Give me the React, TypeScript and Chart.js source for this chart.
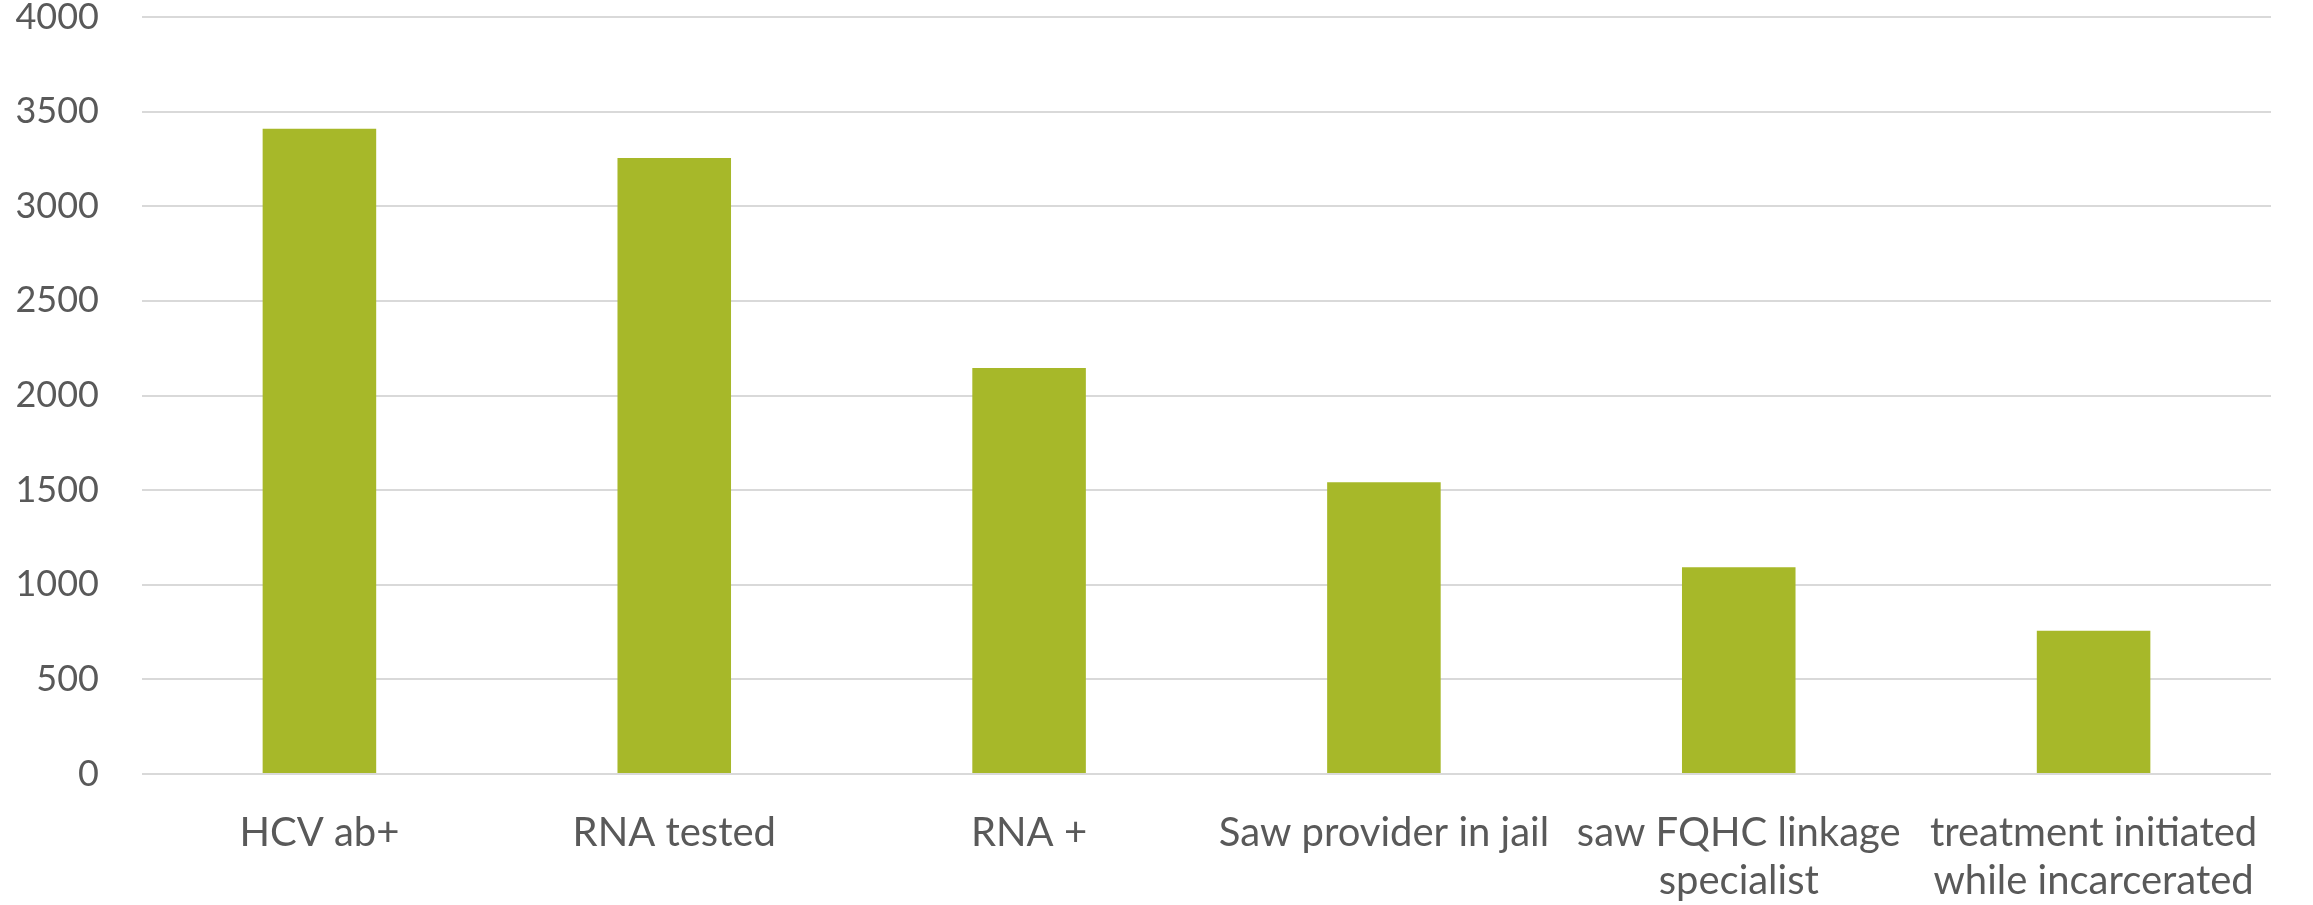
import React, { useEffect, useRef } from "react";
import { Chart, registerables } from "chart.js";

Chart.register(...registerables);

// HCV care cascade counts
const categories: (string | string[])[] = [
  "HCV ab+",
  "RNA tested",
  "RNA +",
  "Saw provider in jail",
  ["saw FQHC linkage", "specialist"],
  ["treatment initiated", "while incarcerated"],
];
const counts: number[] = [3410, 3255, 2145, 1541, 1092, 757];
const yMin = 0;
const yMax = 4000;
const yStep = 500;

const WIDTH = 2313;
const HEIGHT = 905;
const TEXT = "#595959";
const GRID = "#d9d9d9";
const BAR = "#a7b829";
const FONT = "Lato, 'Noto Sans', sans-serif";

export default function App() {
  const canvasRef = useRef<HTMLCanvasElement | null>(null);

  useEffect(() => {
    document.body.style.margin = "0";
    const canvas = canvasRef.current;
    if (!canvas) return;
    const chart = new Chart(canvas, {
      type: "bar",
      data: {
        labels: categories,
        datasets: [
          {
            data: counts,
            backgroundColor: BAR,
            borderWidth: 0,
            barPercentage: 0.32,
            categoryPercentage: 1,
          },
        ],
      },
      options: {
        responsive: false,
        animation: false,
        layout: { padding: { top: 0, right: 42, bottom: 0, left: 0 } },
        plugins: {
          legend: { display: false },
          tooltip: { enabled: false },
        },
        scales: {
          x: {
            grid: { display: false, drawTicks: false },
            border: { display: false },
            ticks: {
              color: TEXT,
              font: { family: FONT, size: 40, lineHeight: 1.2 },
              padding: 35,
              maxRotation: 0,
              minRotation: 0,
              autoSkip: false,
            },
            afterFit: (scale: any) => {
              scale.height = 131;
              scale.paddingLeft = 0;
              scale.paddingRight = 0;
            },
          },
          y: {
            min: yMin,
            max: yMax,
            grid: { color: GRID, lineWidth: 2, drawTicks: false },
            border: { display: false },
            ticks: {
              stepSize: yStep,
              color: TEXT,
              font: { family: FONT, size: 36 },
              padding: 43,
              callback: (value: any) => String(value),
            },
            afterFit: (scale: any) => {
              scale.width = 142;
              scale.paddingTop = 17;
              scale.paddingBottom = 0;
            },
          },
        },
      },
    });
    return () => chart.destroy();
  }, []);

  return (
    <div style={{ width: WIDTH, height: HEIGHT, background: "#ffffff" }}>
      <canvas ref={canvasRef} width={WIDTH} height={HEIGHT} />
    </div>
  );
}
